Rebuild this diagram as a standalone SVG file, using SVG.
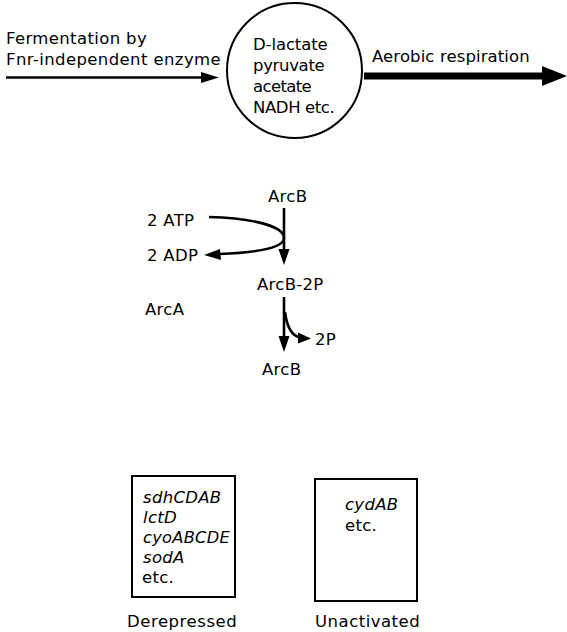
<svg xmlns="http://www.w3.org/2000/svg" width="567" height="632" viewBox="0 0 567 632">
<style>
text{font-family:"DejaVu Sans",sans-serif;font-size:16.5px;fill:#000;letter-spacing:0.3px}
.it{font-style:italic}
.ln{stroke:#000;stroke-width:2.6;fill:none}
.hd{fill:#000;stroke:none}
.bx{fill:#fff;stroke:#000;stroke-width:2}
</style>
<rect width="567" height="632" fill="#fff"/>
<g id="connectors">
<line class="ln" x1="6" y1="77.5" x2="204" y2="77.5"/>
<polygon class="hd" points="219,77.5 201,72 201,83"/>
<line x1="364" y1="76" x2="545" y2="76" stroke="#000" stroke-width="7"/>
<polygon class="hd" points="567,76 542,66 542,86"/>
<line class="ln" x1="284" y1="208" x2="284" y2="252"/>
<polygon class="hd" points="284,265 278.5,249 289.5,249"/>
<path class="ln" d="M209,217 C252,218 284,226 284,238 C284,250 245,253 219,254"/>
<polygon class="hd" points="204,255 220,249 221,260"/>
<line class="ln" x1="284" y1="297" x2="284" y2="339"/>
<polygon class="hd" points="284,352 278.5,336 289.5,336"/>
<path class="ln" d="M285,312 C287,328 293,336 300,337.5"/>
<polygon class="hd" points="311,338.5 298,332.5 298,343.5"/>
</g>
<g id="fermentation-label">
<text x="6" y="44" textLength="141" lengthAdjust="spacing">Fermentation by</text>
<text x="6" y="65" textLength="215" lengthAdjust="spacing">Fnr-independent enzyme</text>
</g>
<g id="pool">
<circle cx="294.5" cy="70.5" r="67.5" fill="#fff" stroke="#000" stroke-width="2"/>
<text x="253" y="50" textLength="75" lengthAdjust="spacing">D-lactate</text>
<text x="253" y="71" textLength="72" lengthAdjust="spacing">pyruvate</text>
<text x="253" y="92" textLength="59" lengthAdjust="spacing">acetate</text>
<text x="253" y="113" textLength="82" lengthAdjust="spacing">NADH etc.</text>
</g>
<g id="aerobic-label">
<text x="372" y="62" textLength="158" lengthAdjust="spacing">Aerobic respiration</text>
</g>
<g id="arcb-top"><text x="268" y="202">ArcB</text></g>
<g id="atp"><text x="147" y="226">2 ATP</text></g>
<g id="adp"><text x="147" y="261">2 ADP</text></g>
<g id="arcb-2p"><text x="257" y="290">ArcB-2P</text></g>
<g id="arca"><text x="145" y="315">ArcA</text></g>
<g id="p2"><text x="315" y="345">2P</text></g>
<g id="arcb-bottom"><text x="262" y="375">ArcB</text></g>
<g id="derepressed-box">
<rect class="bx" x="132" y="476" width="103" height="121"/>
<text class="it" x="143" y="503">sdhCDAB</text>
<text class="it" x="143" y="523">lctD</text>
<text class="it" x="143" y="543" textLength="87" lengthAdjust="spacingAndGlyphs">cyoABCDE</text>
<text class="it" x="143" y="563">sodA</text>
<text x="142" y="583">etc.</text>
<text x="127" y="627" textLength="110" lengthAdjust="spacing">Derepressed</text>
</g>
<g id="unactivated-box">
<rect class="bx" x="315" y="479" width="102" height="122"/>
<text class="it" x="345" y="510">cydAB</text>
<text x="345" y="531">etc.</text>
<text x="315" y="627" textLength="105" lengthAdjust="spacing">Unactivated</text>
</g>
</svg>
